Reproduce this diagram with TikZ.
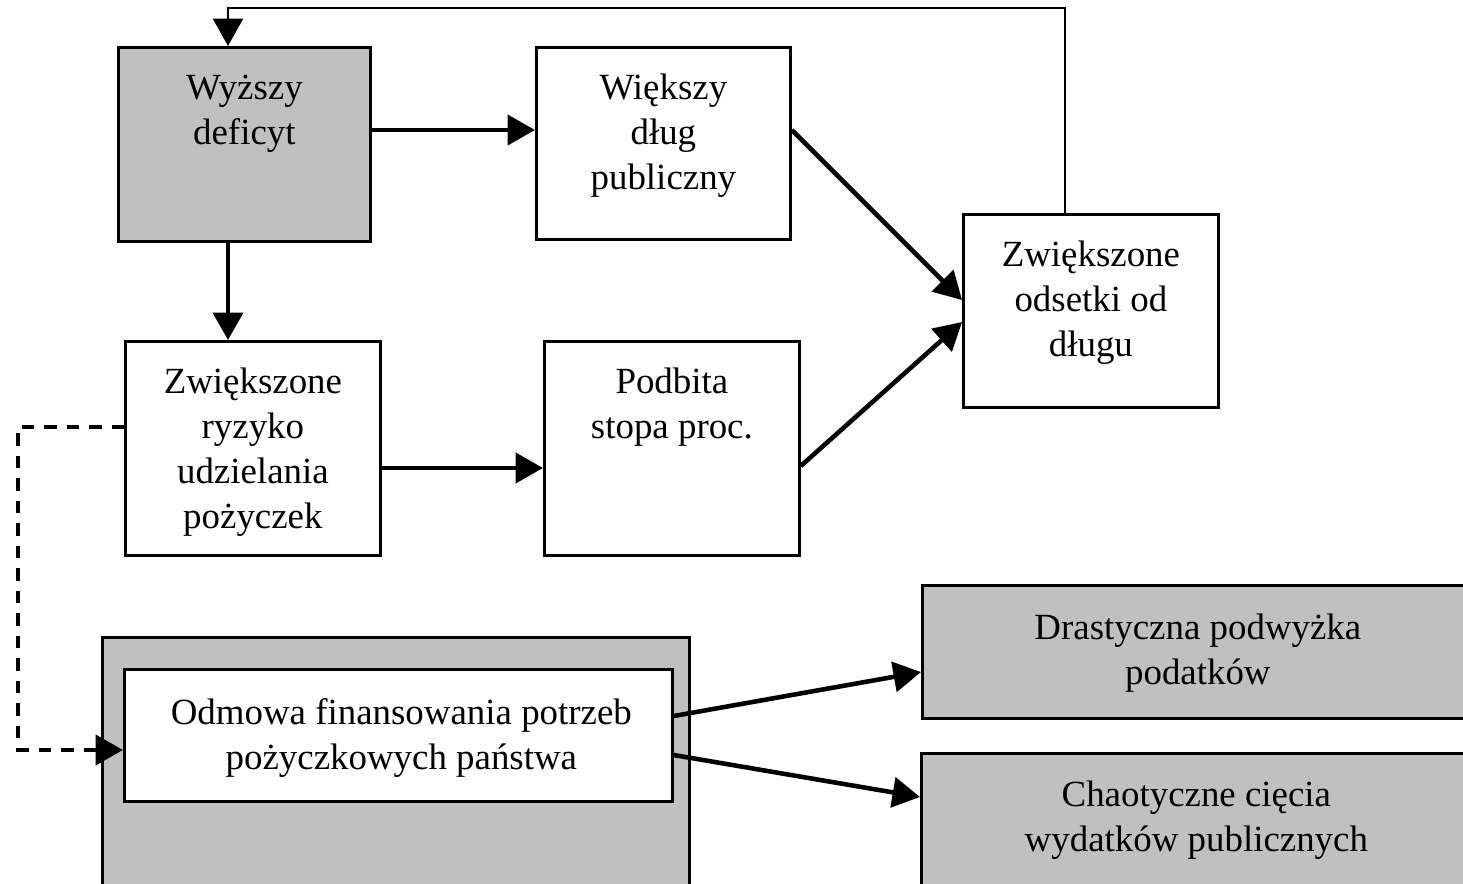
\documentclass[tikz,border=0pt]{standalone}
\usepackage{fontspec}
\setmainfont{Liberation Serif}
\usetikzlibrary{arrows.meta,calc}
\definecolor{boxgray}{RGB}{192,192,192}
\begin{document}
\begin{tikzpicture}[x=0.02cm,y=-0.02cm,
  box/.style={draw=black, line width=1.6pt, rectangle, inner sep=0pt, anchor=north west},
  shaded/.style={box, fill=boxgray},
  plain/.style={box, fill=white},
  caption/.style={font=\fontsize{21}{25.6}\selectfont, align=center, anchor=north, inner sep=0pt},
  tip/.tip={Triangle[length=0.55cm,width=0.6cm]},
  flow/.style={line width=2.6pt, -tip},
  feedback/.style={line width=1.6pt, -tip},
  weakflow/.style={line width=2.6pt, dash pattern=on 0.25cm off 0.2cm, -tip},
]
\clip (0,0) rectangle (1463,883);

% boxes
\node[shaded, minimum width=5.04cm, minimum height=3.88cm] (wd) at (117,46) {};
\node[plain,  minimum width=5.08cm, minimum height=3.84cm] (vd) at (535,46) {};
\node[plain,  minimum width=5.10cm, minimum height=3.86cm] (ods) at (962,213) {};
\node[plain,  minimum width=5.10cm, minimum height=4.28cm] (rz) at (124,340) {};
\node[plain,  minimum width=5.10cm, minimum height=4.28cm] (pod) at (543,340) {};
\node[shaded, minimum width=11.74cm, minimum height=5.60cm] (big) at (101,636) {};
\node[plain,  minimum width=10.96cm, minimum height=2.64cm] (od) at (123,668) {};
\node[shaded, minimum width=11.02cm, minimum height=2.66cm] (dr) at (921,584) {};
\node[shaded, minimum width=11.04cm, minimum height=3.20cm] (ch) at (920,752) {};

% texts
\node[caption] (wd-t) at ($(wd.north)+(0,22)$) {\strut Wyższy\\deficyt};
\node[caption] (vd-t) at ($(vd.north)+(0,22)$) {\strut Większy\\dług\\publiczny};
\node[caption] (ods-t) at ($(ods.north)+(0,22)$) {\strut Zwiększone\\odsetki od\\długu};
\node[caption] (rz-t) at ($(rz.north)+(0,22)$) {\strut Zwiększone\\ryzyko\\udzielania\\pożyczek};
\node[caption] (pod-t) at ($(pod.north)+(0,22)$) {\strut Podbita\\stopa proc.};
\node[caption] (od-t) at ($(od.north)+(3,25)$) {\strut Odmowa finansowania potrzeb\\pożyczkowych państwa};
\node[caption] (dr-t) at ($(dr.north)+(0,24)$) {\strut Drastyczna podwyżka\\podatków};
\node[caption] (ch-t) at ($(ch.north)+(-1,23)$) {\strut Chaotyczne cięcia\\wydatków publicznych};

% connectors
\draw[flow] ($(wd.north east)+(0,84)$) -- ($(vd.north west)+(0,84)$);
\draw[flow] ($(wd.south west)+(111,0)$) -- ($(rz.north west)+(104,0)$);
\draw[flow] ($(rz.north east)+(0,128)$) -- ($(pod.north west)+(0,128)$);
\draw[flow] ($(vd.north east)+(0,84)$) -- ($(ods.north west)+(0,87)$);
\draw[flow] ($(pod.north east)+(0,126)$) -- ($(ods.north west)+(0,109)$);

\coordinate (fbA) at ($(ods.north west)+(103,0)$);
\coordinate (fbB) at ($(wd.north west)+(111,0)$);
\coordinate (ceil) at (0,8);
\draw[feedback] (fbA) -- (fbA |- ceil) -- (fbB |- ceil) -- (fbB);

\coordinate (dashA) at ($(rz.north west)+(0,87)$);
\coordinate (dashB) at ($(od.north west)+(0,82)$);
\coordinate (lane) at (18,0);
\draw[weakflow] (dashA) -- (dashA -| lane) -- (dashB -| lane) -- (dashB);

\draw[flow] ($(od.north east)+(0,48)$) -- ($(dr.north west)+(0,88)$);
\draw[flow] ($(od.north east)+(0,87)$) -- ($(ch.north west)+(0,45)$);
\end{tikzpicture}
\end{document}
